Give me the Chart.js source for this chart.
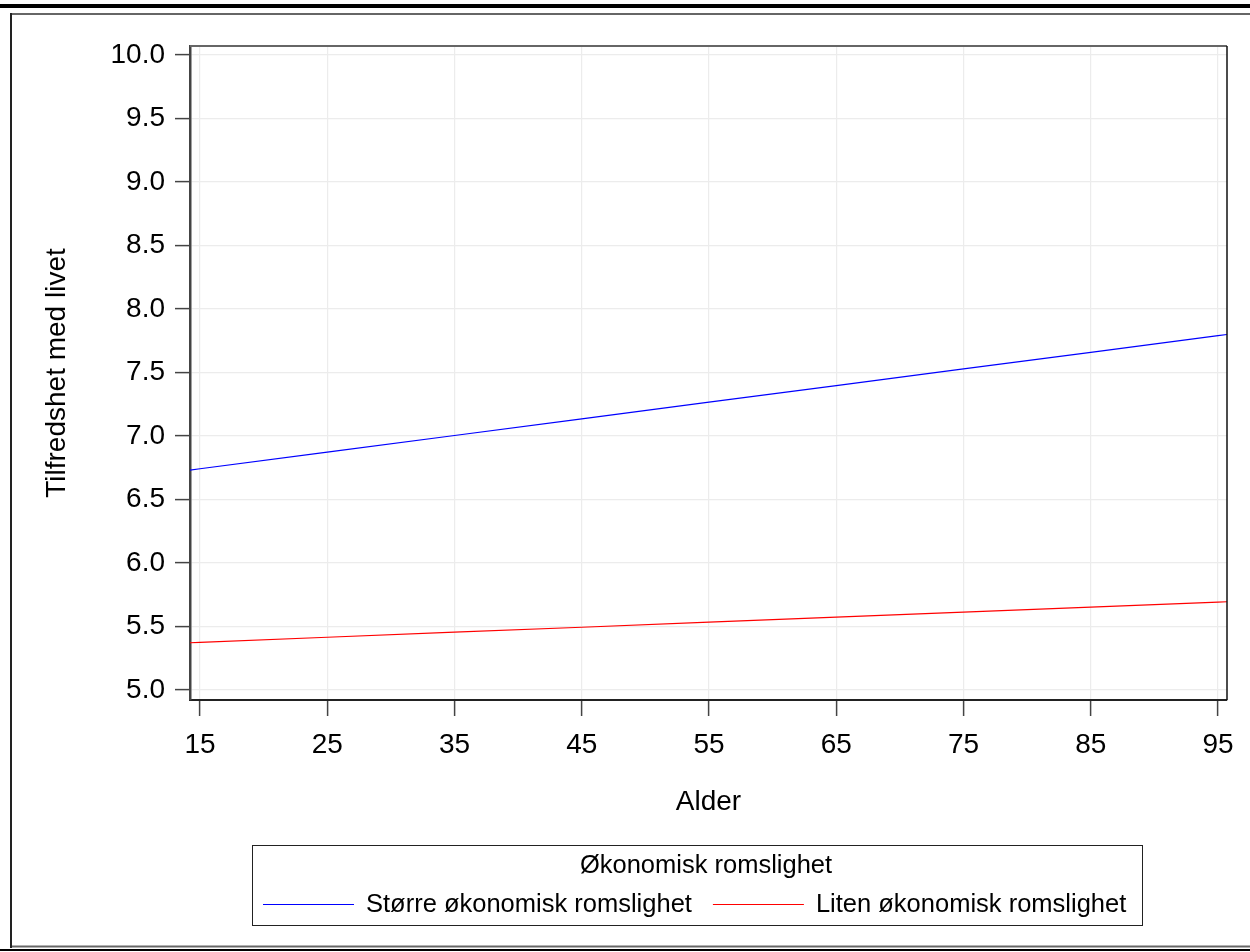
<!DOCTYPE html>
<html>
<head>
<meta charset="utf-8">
<script src="https://cdn.jsdelivr.net/npm/chart.js@4/dist/chart.umd.min.js"></script>
<style>
  html, body { margin: 0; padding: 0; background: #fff; }
  #wrap { width: 1250px; height: 952px; }
</style>
</head>
<body>
<div id="wrap"><canvas id="chart" width="1250" height="952"></canvas></div>
<script>
// ages read at the ticks, plus the two ends where the lines meet the frame
var ages = [14, 15, 25, 35, 45, 55, 65, 75, 85, 95, 96];
var storreValues = [6.729, 6.742, 6.873, 7.004, 7.135, 7.266, 7.397, 7.528, 7.659, 7.790, 7.803];
var litenValues = [5.371, 5.375, 5.415, 5.455, 5.494, 5.534, 5.573, 5.613, 5.652, 5.692, 5.696];

var xTicks = [15, 25, 35, 45, 55, 65, 75, 85, 95];
var yTicks = [5.0, 5.5, 6.0, 6.5, 7.0, 7.5, 8.0, 8.5, 9.0, 9.5, 10.0];

var seriesLabels = ["Større økonomisk romslighet", "Liten økonomisk romslighet"];
var legendTitle = "Økonomisk romslighet";
var xTitle = "Alder";
var yTitle = "Tilfredshet med livet";

var FONT = "'Liberation Sans', Arial, sans-serif";

function toPoints(xs, ys) {
  return xs.map(function (x, i) { return { x: x, y: ys[i] }; });
}

// outer frame lines like the exported figure
var framePlugin = {
  id: "frame",
  beforeDraw: function (chart) {
    var ctx = chart.ctx;
    ctx.save();
    ctx.fillStyle = "#fff";
    ctx.fillRect(0, 0, chart.width, chart.height);
    ctx.fillStyle = "#000";
    ctx.fillRect(0, 4, chart.width, 4);
    ctx.strokeStyle = "#666";
    ctx.lineWidth = 2;
    ctx.beginPath();
    ctx.moveTo(10, 14); ctx.lineTo(chart.width, 14);
    ctx.moveTo(10, 946.5); ctx.lineTo(chart.width, 946.5);
    ctx.stroke();
    ctx.strokeStyle = "#222";
    ctx.beginPath();
    ctx.moveTo(11, 13); ctx.lineTo(11, 948);
    ctx.stroke();
    ctx.fillStyle = "#000";
    ctx.fillRect(0, 949, chart.width, 2);
    ctx.restore();
  },
  afterDatasetsDraw: function (chart) {
    var a = chart.chartArea, ctx = chart.ctx;
    ctx.save();
    ctx.strokeStyle = "#666";
    ctx.lineWidth = 2;
    ctx.beginPath();
    ctx.moveTo(a.left, a.top); ctx.lineTo(a.right, a.top);
    ctx.stroke();
    ctx.strokeStyle = "#111";
    ctx.lineWidth = 1.5;
    ctx.beginPath();
    ctx.moveTo(a.right, a.top); ctx.lineTo(a.right, a.bottom);
    ctx.stroke();
    ctx.restore();
  }
};

// boxed legend under the x axis title
var legendPlugin = {
  id: "boxLegend",
  afterDraw: function (chart) {
    var ctx = chart.ctx;
    var box = { left: 252, top: 845, right: 1142, bottom: 925 };
    var cx = (box.left + box.right) / 2;
    ctx.save();
    ctx.strokeStyle = "#222";
    ctx.lineWidth = 1;
    ctx.strokeRect(box.left + 0.5, box.top + 0.5, box.right - box.left, box.bottom - box.top);

    ctx.font = "25.5px " + FONT;
    ctx.fillStyle = "#000";
    ctx.textAlign = "center";
    ctx.textBaseline = "middle";
    ctx.fillText(legendTitle, cx + 9, 866);

    var sample = 91, gapText = 12, gapItem = 21;
    var x = box.left + 11;
    var y = 904;
    ctx.textAlign = "left";
    chart.data.datasets.forEach(function (d) {
      ctx.strokeStyle = d.borderColor;
      ctx.lineWidth = 1.2;
      ctx.beginPath();
      ctx.moveTo(x, y + 0.5); ctx.lineTo(x + sample, y + 0.5);
      ctx.stroke();
      x += sample + gapText;
      ctx.fillStyle = "#000";
      ctx.fillText(d.label, x, y + 1);
      x += ctx.measureText(d.label).width + gapItem;
    });
    ctx.restore();
  }
};

var config = {
  type: "line",
  data: {
    datasets: [
      { label: seriesLabels[0], data: toPoints(ages, storreValues), borderColor: "#0000ff", borderWidth: 1.2, pointRadius: 0, fill: false, tension: 0 },
      { label: seriesLabels[1], data: toPoints(ages, litenValues), borderColor: "#ff0000", borderWidth: 1.2, pointRadius: 0, fill: false, tension: 0 },
    ],
  },
  options: {
    responsive: false,
    animation: false,
    events: [],
    layout: { padding: { left: 0, top: 46, right: 23, bottom: 122 } },
    plugins: { legend: { display: false }, tooltip: { enabled: false } },
    scales: {
      x: {
        type: "linear",
        min: 14.214,
        max: 95.707,
        afterBuildTicks: function (s) { s.ticks = xTicks.map(function (v) { return { value: v }; }); },
        afterFit: function (s) { s.height = 130; },
        ticks: {
          font: { family: FONT, size: 28 },
          color: "#000",
          padding: 12,
          maxRotation: 0,
          autoSkip: false,
          callback: function (v) { return String(v); },
        },
        grid: { color: "#ececec", lineWidth: 1.2, tickColor: "#444", tickLength: 16, tickWidth: 1.5 },
        border: { color: "#222", width: 2 },
        title: { display: true, text: xTitle, font: { family: FONT, size: 28 }, color: "#000", padding: { top: 0, bottom: 11 } },
      },
      y: {
        type: "linear",
        min: 4.921,
        max: 10.071,
        afterBuildTicks: function (s) { s.ticks = yTicks.map(function (v) { return { value: v }; }); },
        afterFit: function (s) { s.width = 190; },
        ticks: {
          font: { family: FONT, size: 28 },
          color: "#000",
          padding: 10,
          autoSkip: false,
          callback: function (v) { return Number(v).toFixed(1); },
        },
        grid: { color: "#ececec", lineWidth: 1.2, tickColor: "#444", tickLength: 15, tickWidth: 1.5 },
        border: { color: "#444", width: 2.5 },
        title: { display: true, text: yTitle, font: { family: FONT, size: 28 }, color: "#000", padding: { top: 40, bottom: 0 } },
      },
    },
  },
  plugins: [framePlugin, legendPlugin],
};

const ctx = document.getElementById("chart").getContext("2d");
const lineChart = new Chart(ctx, config);
</script>
</body>
</html>
